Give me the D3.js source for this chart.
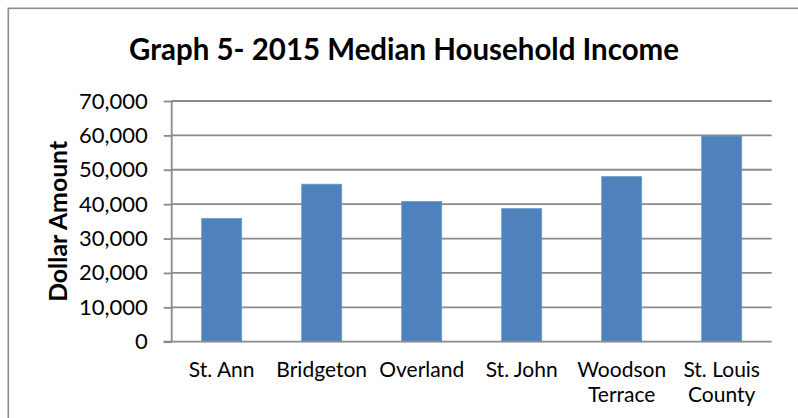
<!DOCTYPE html>
<html>
<head>
<meta charset="utf-8">
<script src="https://cdn.jsdelivr.net/npm/d3@7"></script>
<style>
  html, body { margin: 0; padding: 0; background: #fff; }
  svg { display: block; }
  text { font-family: Lato, "Open Sans", "Liberation Sans", sans-serif; fill: #000; }
</style>
</head>
<body>
<svg id="chart" width="798" height="418"></svg>
<script>
const categories = [["St. Ann"], ["Bridgeton"], ["Overland"], ["St. John"], ["Woodson", "Terrace"], ["St. Louis", "County"]];
const values = [35800, 45800, 40800, 38700, 48000, 59800];
const yTicks = [0, 10000, 20000, 30000, 40000, 50000, 60000, 70000];
const title = "Graph 5- 2015 Median Household Income";
const yTitle = "Dollar Amount";

const W = 798, H = 418;
const m = { left: 171.7, right: 26.3, top: 101, bottom: 76.3 };
const svg = d3.select("#chart");
const grid = "#8a8a8a";

svg.append("rect").attr("width", W).attr("height", H).attr("fill", "#fff");
// outer chart frame (only top and left edges visible)
svg.append("rect").attr("x", 8.3).attr("y", 8.3).attr("width", W + 20).attr("height", H + 20)
  .attr("fill", "none").attr("stroke", "#8c8c8c").attr("stroke-width", 1.6);

const x = d3.scaleBand().domain(categories.map(c => c.join(" ")))
  .range([m.left, W - m.right]).paddingInner(0.6).paddingOuter(0.3);
const y = d3.scaleLinear().domain([0, 70000]).range([H - m.bottom, m.top]);

// gridlines
svg.append("g").selectAll("line").data(yTicks.filter(d => d > 0)).join("line")
  .attr("x1", m.left).attr("x2", W - m.right)
  .attr("y1", d => y(d)).attr("y2", d => y(d))
  .attr("stroke", grid).attr("stroke-width", 1.8);

// bars
svg.append("g").selectAll("rect").data(values).join("rect")
  .attr("x", (d, i) => x(categories[i].join(" ")))
  .attr("width", x.bandwidth())
  .attr("y", d => y(d))
  .attr("height", d => y(0) - y(d))
  .attr("fill", "#4f81bd")
  .attr("stroke", "#6d97c9").attr("stroke-width", 0.8);

// y axis
const yAxis = d3.axisLeft(y).tickValues(yTicks).tickFormat(d3.format(",")).tickSize(8).tickPadding(16);
const gy = svg.append("g").attr("transform", `translate(${m.left},0)`).call(yAxis);
gy.select(".domain").attr("stroke", grid).attr("stroke-width", 1.8).attr("d", `M0,${y(70000)}V${y(0)}`);
gy.selectAll(".tick line").attr("stroke", grid).attr("stroke-width", 1.8);
gy.selectAll(".tick text").style("font-size", "22px").attr("fill", "#000");

// x baseline
svg.append("line").attr("x1", m.left - 8).attr("x2", W - m.right)
  .attr("y1", y(0)).attr("y2", y(0)).attr("stroke", grid).attr("stroke-width", 1.8);

// category labels
const lab = svg.append("g").selectAll("text").data(categories).join("text")
  .attr("text-anchor", "middle")
  .style("font-size", "21px")
  .attr("x", d => x(d.join(" ")) + x.bandwidth() / 2)
  .attr("y", y(0) + 35);
lab.selectAll("tspan").data(d => d).join("tspan")
  .attr("x", function () { return d3.select(this.parentNode).attr("x"); })
  .attr("dy", (d, i) => i === 0 ? 0 : 25.7)
  .text(d => d);

// title
svg.append("text").attr("x", 404).attr("y", 60).attr("text-anchor", "middle")
  .style("font-size", "31px").style("font-weight", "bold")
  .attr("textLength", 550).attr("lengthAdjust", "spacingAndGlyphs")
  .text(title);

// y title
svg.append("text").attr("transform", `translate(67,${(y(0) + y(70000)) / 2}) rotate(-90)`)
  .attr("text-anchor", "middle").style("font-size", "25px").style("font-weight", "bold")
  .attr("textLength", 161).attr("lengthAdjust", "spacingAndGlyphs")
  .text(yTitle);
</script>
</body>
</html>
